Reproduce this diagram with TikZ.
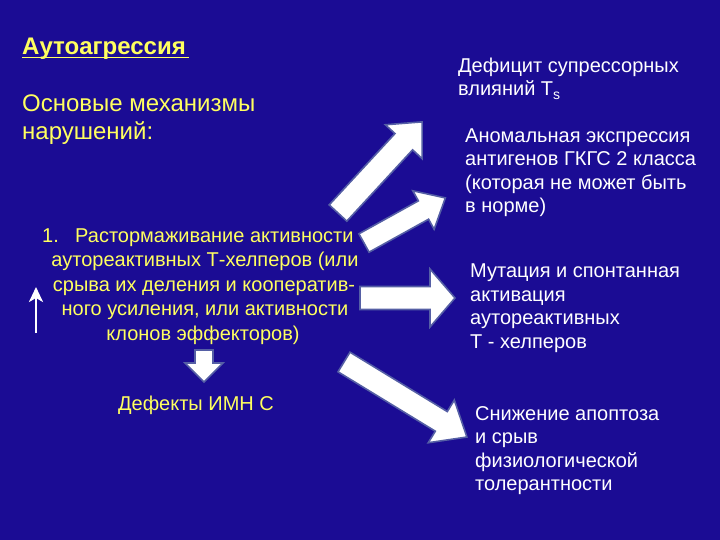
\documentclass[tikz,border=0pt]{standalone}
\usepackage{fontspec}
\setmainfont{Liberation Sans}
\usetikzlibrary{arrows.meta}
\definecolor{bgblue}{RGB}{27,12,148}
\definecolor{ylw}{RGB}{255,255,95}
\definecolor{arrowedge}{RGB}{85,95,165}
\newcommand\blockarr[6]{%
  \begin{scope}[shift={(#1)}, rotate=#2]
    \draw[barrow] (0,-#4) -- ({#3-#6},-#4) -- ({#3-#6},-#5) -- (#3,0)
      -- ({#3-#6},#5) -- ({#3-#6},#4) -- (0,#4) -- cycle;
  \end{scope}}
\begin{document}
\begin{tikzpicture}[x=1pt,y=-1pt,
  barrow/.style={fill=white, draw=arrowedge, line width=1.6pt, line join=miter},
  ytxt/.style={text=ylw, inner sep=0pt, font=\fontsize{20}{24}\selectfont},
  ybig/.style={text=ylw, inner sep=0pt, font=\fontsize{24}{28}\selectfont},
  wtxt/.style={text=white, inner sep=0pt, anchor=base west, font=\fontsize{20}{24}\selectfont}]
\fill[bgblue] (0,0) rectangle (720,540);
\useasboundingbox (0,0) rectangle (720,540);

% left texts
\node[ybig, anchor=base west, font=\fontsize{24}{28}\selectfont\bfseries] (title) at (22,55) {Аутоагрессия};
\draw[ylw, line width=1.4pt] ([yshift=-2.5pt]title.base west) -- ([xshift=3pt,yshift=-2.5pt]title.base east);
\node[ybig, anchor=base west] (m1) at (22,112) {Основые механизмы};
\node[ybig, anchor=base west] (m2) at (22,140) {нарушений:};

\node[ytxt, anchor=base west] (n1) at (42,242) {1.};
\node[ytxt, anchor=base west] (t1) at (75,242) {Растормаживание активности};
\node[ytxt, anchor=base] (t2) at (205,266) {аутореактивных Т-хелперов (или};
\node[ytxt, anchor=base] (t3) at (204,291) {срыва их деления и кооператив-};
\node[ytxt, anchor=base] (t4) at (205,315) {ного усиления, или активности};
\node[ytxt, anchor=base] (t5) at (203,340) {клонов эффекторов)};
\node[ytxt, anchor=base] (d) at (196,410) {Дефекты ИМН С};

% right texts
\node[wtxt] (a1) at (458,73) {Дефицит супрессорных};
\node[wtxt] (a2) at (458,96) {влияний T\textsubscript{s}};
\node[wtxt] (b1) at (465,143) {Аномальная экспрессия};
\node[wtxt] (b2) at (465,166) {антигенов ГКГС 2 класса};
\node[wtxt] (b3) at (465,190) {(которая не может быть};
\node[wtxt] (b4) at (465,213) {в норме)};
\node[wtxt] (c1) at (470,277) {Мутация и спонтанная};
\node[wtxt] (c2) at (470,301) {активация};
\node[wtxt] (c3) at (470,324) {аутореактивных};
\node[wtxt] (c4) at (470,348) {Т - хелперов};
\node[wtxt] (e1) at (475,420) {Снижение апоптоза};
\node[wtxt] (e2) at (475,443) {и срыв};
\node[wtxt] (e3) at (475,467) {физиологической};
\node[wtxt] (e4) at (475,490) {толерантности};

% block arrows
\coordinate (A1) at (338,213);
\coordinate (A2) at (364,243);
\coordinate (A3) at (360,298);
\coordinate (A4) at (344,362);
\coordinate (A5) at (204,350);
\blockarr{A1}{47.3}{124}{12}{25}{27}
\blockarr{A2}{29}{93}{10.5}{22}{25}
\blockarr{A3}{0}{95}{11.5}{29}{25}
\blockarr{A4}{-31.4}{144}{11.5}{25}{30}
\blockarr{A5}{-90}{32}{9}{19}{19}

% thin up arrow
\coordinate (u0) at (36,333);
\coordinate (u1) at (36,287);
\draw[white, line width=2.6pt, -{Stealth[width=14pt,length=15pt,inset=4pt]}] (u0) -- (u1);
\end{tikzpicture}
\end{document}
